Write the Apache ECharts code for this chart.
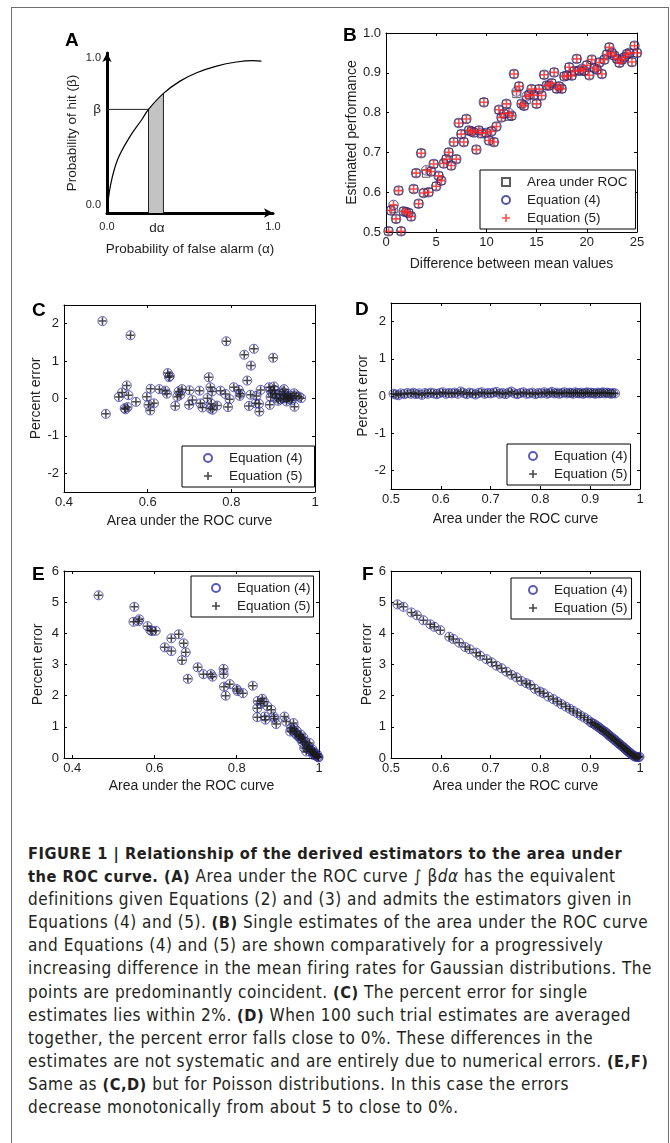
<!DOCTYPE html>
<html>
<head>
<meta charset="utf-8">
<script src="https://cdn.jsdelivr.net/npm/echarts@6/dist/echarts.min.js"></script>
<style>
html, body { margin: 0; padding: 0; background: #fff; }
#frame {
  position: absolute; left: 11px; top: 7px; width: 658px; height: 1160px;
  border: 1.5px solid #6e6e6e; border-bottom: none; box-sizing: border-box;
}
#chart { position: absolute; left: 0; top: 0; width: 670px; height: 820px; }
#caption {
  position: absolute; left: 28px; top: 842px;
  font-family: "Liberation Sans Narrow", "DejaVu Sans Condensed", "Liberation Sans", sans-serif;
  font-size: 17px; letter-spacing: 0.5px; line-height: 23.1px; color: #231f20; white-space: nowrap;
}
#caption b { font-weight: bold; font-size: 16.3px; }
</style>
</head>
<body>
<div id="frame"></div>
<div id="chart"></div>
<div id="caption">
<b>FIGURE 1 | Relationship of the derived estimators to the area under</b><br>
<b>the ROC curve. (A)</b> Area under the ROC curve ∫ β<i>d</i><i>α</i> has the equivalent<br>
definitions given Equations (2) and (3) and admits the estimators given in<br>
Equations (4) and (5). <b>(B)</b> Single estimates of the area under the ROC curve<br>
and Equations (4) and (5) are shown comparatively for a progressively<br>
increasing difference in the mean firing rates for Gaussian distributions. The<br>
points are predominantly coincident. <b>(C)</b> The percent error for single<br>
estimates lies within 2%. <b>(D)</b> When 100 such trial estimates are averaged<br>
together, the percent error falls close to 0%. These differences in the<br>
estimates are not systematic and are entirely due to numerical errors. <b>(E,F)</b><br>
Same as <b>(C,D)</b> but for Poisson distributions. In this case the errors<br>
decrease monotonically from about 5 to close to 0%.
</div>
<script>
// ---- panel A: schematic ROC curve
const rocX = [0, 0.02, 0.064, 0.14, 0.21, 0.25, 0.34, 0.44, 0.54, 0.66, 0.78, 0.88, 0.93]
const rocY = [0, 0.172, 0.344, 0.495, 0.602, 0.667, 0.770, 0.849, 0.903, 0.946, 0.972, 0.981, 0.978]
const betaX = 0.25, betaY = 0.667
const stripX = 0.34, stripY = 0.770

// ---- panel B: estimated performance vs difference of means
const xB = [0.25,0.5,0.75,1,1.25,1.5,1.75,2,2.25,2.5,2.75,3,3.25,3.5,3.75,4,4.25,4.5,4.75,5,
  5.25,5.5,5.75,6,6.25,6.5,6.75,7,7.25,7.5,7.75,8,8.25,8.5,8.75,9,9.25,9.5,9.75,10,
  10.25,10.5,10.75,11,11.25,11.5,11.75,12,12.25,12.5,12.75,13,13.25,13.5,13.75,14,14.25,14.5,14.75,15,
  15.25,15.5,15.75,16,16.25,16.5,16.75,17,17.25,17.5,17.75,18,18.25,18.5,18.75,19,19.25,19.5,19.75,20,
  20.25,20.5,20.75,21,21.25,21.5,21.75,22,22.25,22.5,22.75,23,23.25,23.5,23.75,24,24.25,24.5,24.75,25]
const eq4B = [0.502,0.554,0.568,0.533,0.604,0.502,0.552,0.550,0.548,0.539,
  0.608,0.648,0.571,0.698,0.598,0.655,0.600,0.652,0.671,0.615,
  0.641,0.629,0.672,0.683,0.700,0.667,0.726,0.683,0.774,0.746,
  0.726,0.784,0.755,0.753,0.750,0.707,0.755,0.749,0.826,0.749,
  0.730,0.753,0.726,0.765,0.807,0.788,0.797,0.822,0.799,0.792,
  0.897,0.853,0.866,0.822,0.817,0.841,0.845,0.859,0.844,0.822,
  0.859,0.843,0.895,0.868,0.868,0.874,0.901,0.860,0.866,0.860,
  0.891,0.893,0.914,0.893,0.904,0.935,0.906,0.910,0.905,0.919,
  0.894,0.933,0.912,0.908,0.926,0.897,0.933,0.946,0.964,0.950,
  0.943,0.935,0.925,0.933,0.939,0.947,0.950,0.927,0.968,0.950]
const aucB = [0.502,0.554,0.558,0.533,0.604,0.502,0.552,0.550,0.548,0.539,
  0.608,0.648,0.571,0.698,0.598,0.647,0.600,0.652,0.671,0.615,
  0.641,0.629,0.672,0.683,0.700,0.667,0.726,0.683,0.774,0.746,
  0.726,0.784,0.755,0.753,0.750,0.707,0.755,0.746,0.826,0.749,
  0.730,0.753,0.726,0.765,0.807,0.788,0.797,0.822,0.790,0.792,
  0.897,0.847,0.866,0.822,0.817,0.832,0.845,0.859,0.844,0.822,
  0.859,0.843,0.895,0.868,0.868,0.874,0.901,0.860,0.866,0.860,
  0.891,0.893,0.914,0.893,0.904,0.935,0.906,0.903,0.905,0.919,
  0.894,0.933,0.912,0.908,0.926,0.897,0.933,0.946,0.964,0.950,
  0.943,0.935,0.925,0.933,0.939,0.947,0.950,0.927,0.968,0.950]
const eq5B = eq4B

// ---- panel C: percent error, single estimates (Gaussian)
const xC = [0.492,0.500,0.559,0.531,0.539,0.550,0.554,0.547,0.552,0.572,
  0.598,0.602,0.606,0.607,0.615,0.628,0.642,0.648,0.651,0.646,
  0.666,0.671,0.674,0.678,0.682,0.699,0.700,0.707,0.724,0.726,
  0.731,0.743,0.746,0.750,0.750,0.752,0.754,0.755,0.766,0.774,
  0.786,0.788,0.792,0.796,0.806,0.818,0.820,0.822,0.831,0.838,
  0.842,0.846,0.847,0.854,0.858,0.860,0.866,0.867,0.870,0.890,
  0.892,0.894,0.898,0.900,0.902,0.903,0.908,0.912,0.916,0.922,
  0.926,0.930,0.932,0.935,0.938,0.942,0.946,0.951,0.950,0.962,
  0.967,0.894,0.905,0.918,0.925,0.928,0.936,0.944,0.955,0.653,0.545]
const eq4C = [2.07,-0.41,1.69,0.04,0.16,0.35,0.09,-0.29,-0.23,-0.09,
  0.05,-0.17,-0.32,0.26,-0.13,0.25,0.21,0.68,0.57,0.13,
  -0.20,0.05,0.19,0.10,0.25,-0.17,0.22,-0.04,0.21,-0.13,
  -0.24,0.01,0.57,0.30,-0.27,-0.14,0.19,-0.30,-0.19,0.21,
  0.12,1.53,-0.23,-0.02,0.30,0.23,0.07,0.13,1.17,0.48,
  -0.20,0.10,0.88,1.33,-0.13,0.07,-0.14,-0.35,0.23,0.30,
  -0.17,0.04,0.14,1.09,0.32,0.23,0.01,-0.06,0.13,0.19,
  0.25,0.05,-0.08,0.04,-0.01,0.07,0.01,-0.22,0.14,0.05,
  0.01,0.21,0.10,-0.02,0.00,0.09,0.12,-0.05,0.08,0.60,-0.26]
const eq5C = eq4C

// ---- panel D: percent error, 100 averaged trials (Gaussian)
const xD = [0.505,0.51,0.515,0.52,0.527,0.533,0.54,0.545,0.55,0.556,
  0.562,0.568,0.574,0.58,0.586,0.592,0.598,0.604,0.61,0.616,
  0.622,0.628,0.634,0.64,0.646,0.652,0.658,0.664,0.67,0.676,
  0.682,0.688,0.694,0.7,0.706,0.712,0.718,0.724,0.73,0.736,
  0.742,0.748,0.754,0.76,0.766,0.772,0.778,0.784,0.79,0.796,
  0.802,0.808,0.813,0.818,0.823,0.828,0.833,0.838,0.843,0.848,
  0.853,0.858,0.862,0.866,0.87,0.874,0.878,0.882,0.886,0.89,
  0.894,0.898,0.902,0.906,0.91,0.914,0.918,0.922,0.926,0.93,
  0.934,0.938,0.942,0.946,0.95]
const eq4D = [0.06,0.04,0.02,0.07,0.05,0.08,0.06,0.09,0.05,0.07,
  0.03,0.08,0.06,0.09,0.07,0.05,0.08,0.10,0.06,0.08,
  0.07,0.09,0.06,0.12,0.08,0.05,0.09,0.07,0.04,0.08,
  0.10,0.06,0.08,0.07,0.09,0.11,0.06,0.08,0.05,0.09,
  0.12,0.07,0.05,0.08,0.10,0.06,0.07,0.09,0.05,0.08,
  0.07,0.10,0.06,0.08,0.11,0.07,0.09,0.06,0.08,0.10,
  0.07,0.09,0.08,0.06,0.10,0.08,0.07,0.09,0.06,0.08,
  0.10,0.07,0.09,0.08,0.06,0.09,0.07,0.08,0.10,0.07,
  0.09,0.08,0.06,0.08,0.07]
const eq5D = eq4D

// ---- panel E: percent error, single estimates (Poisson)
const xE = [0.464,0.549,0.551,0.561,0.563,0.583,0.590,0.594,0.603,0.625,
  0.641,0.641,0.659,0.667,0.671,0.676,0.681,0.705,0.719,0.737,
  0.741,0.768,0.768,0.769,0.773,0.783,0.800,0.802,0.815,0.839,
  0.850,0.850,0.851,0.858,0.862,0.866,0.868,0.870,0.874,0.884,
  0.890,0.892,0.896,0.916,0.920,0.930,0.932,0.938,0.942,0.946,
  0.950,0.956,0.958,0.962,0.964,0.966,0.969,0.970,0.974,0.977,
  0.978,0.982,0.985,0.986,0.988,0.990,0.993,0.996,0.998,
  0.935,0.940,0.945,0.952,0.955,0.960,0.972,0.980,0.984,0.992,0.995,0.999]
const eq4E = [5.22,4.37,4.85,4.39,4.45,4.23,4.10,4.07,4.08,3.55,
  3.84,3.43,3.97,3.14,3.68,3.39,2.54,2.91,2.69,2.69,
  2.61,2.86,2.69,2.29,2.00,2.37,2.21,2.15,2.08,2.32,
  1.60,1.31,1.83,1.74,1.90,1.81,1.33,1.23,1.67,1.55,
  1.33,1.26,1.09,1.33,1.17,0.85,0.96,1.12,0.80,0.87,
  0.69,0.75,0.59,0.66,0.32,0.53,0.21,0.43,0.37,0.48,
  0.27,0.21,0.16,0.10,0.19,0.11,0.07,0.05,0.03,
  0.90,0.95,0.75,0.70,0.62,0.50,0.30,0.25,0.28,0.09,0.12,0.02]
const eq5E = eq4E

// ---- panel F: percent error, 100 averaged trials (Poisson)
const xF = [0.513,0.525,0.541,0.552,0.565,0.579,0.587,0.599,0.617,0.625,
  0.637,0.649,0.658,0.671,0.679,0.692,0.702,0.712,0.722,0.732,
  0.742,0.752,0.762,0.772,0.779,0.789,0.799,0.806,0.816,0.826,
  0.834,0.842,0.851,0.859,0.866,0.874,0.881,0.888,0.895,0.901,
  0.908,0.915,0.921,0.927,0.933,0.938,0.943,0.949,0.953,0.958,
  0.963,0.967,0.971,0.975,0.979,0.983,0.987,0.991,0.995,0.999,
  0.904,0.911,0.918,0.924,0.930,0.936,0.941,0.946,0.951,0.956,
  0.961,0.965,0.969,0.973,0.977,0.981,0.985,0.989,0.993,0.997]
const eq4F = [4.93,4.85,4.67,4.58,4.42,4.29,4.21,4.10,3.89,3.82,
  3.70,3.56,3.49,3.38,3.28,3.17,3.07,2.96,2.88,2.77,
  2.67,2.59,2.47,2.40,2.35,2.22,2.13,2.08,1.97,1.89,
  1.81,1.73,1.65,1.58,1.51,1.44,1.36,1.30,1.23,1.15,
  1.09,1.01,0.94,0.87,0.80,0.72,0.66,0.59,0.52,0.46,
  0.39,0.34,0.28,0.22,0.17,0.12,0.07,0.04,0.03,0.04,
  1.12,1.05,0.98,0.90,0.84,0.76,0.69,0.62,0.56,0.49,
  0.42,0.37,0.31,0.25,0.20,0.15,0.10,0.06,0.04,0.03]
const eq5F = eq4F

// tick labels
const ticksB = { x: [0, 5, 10, 15, 20, 25], y: [0.5, 0.6, 0.7, 0.8, 0.9, 1.0] }
const ticksC = { x: [0.4, 0.6, 0.8, 1], y: [-2, -1, 0, 1, 2] }
const ticksD = { x: [0.5, 0.6, 0.7, 0.8, 0.9, 1], y: [-2, -1, 0, 1, 2] }
const ticksE = { x: [0.4, 0.6, 0.8, 1], y: [0, 1, 2, 3, 4, 5, 6] }
const ticksF = { x: [0.5, 0.6, 0.7, 0.8, 0.9, 1], y: [0, 1, 2, 3, 4, 5, 6] }

const FONT = '"Liberation Sans", Arial, sans-serif'
const TXT = '#1e1e1e'
const NAVY = '#2c2c8e'
const BLUE = '#3232a2'
const PLUS = 'path://M4,0H6V4H10V6H6V10H4V6H0V4H4Z'

const zip = (xs, ys) => xs.map((x, i) => [x, ys[i]])
const fmtDec = v => (v === 1 ? '1' : (Math.abs(v) < 1e-9 ? '0' : String(+v.toFixed(1))))
const fmtB = v => v.toFixed(1)

const grids = [], xAxes = [], yAxes = [], series = [], legends = [], titles = []
const legendText = {}

// boxed matlab-like axes, ticks inside on all four sides
function boxAxes(box, xr, yr, ticks, names, gaps, xFmt, yFmt) {
  grids.push({ left: box[0], top: box[1], width: box[2], height: box[3] })
  const gi = grids.length - 1
  const line = { show: true, onZero: false, lineStyle: { color: '#000', width: 1 } }
  const tick = v => ({ show: true, inside: true, length: 3, customValues: v, lineStyle: { color: '#000', width: 1 } })
  const lbl = { color: TXT, fontSize: 13, fontFamily: FONT }
  const nameStyle = { color: TXT, fontSize: 14, fontFamily: FONT }
  xAxes.push({
    type: 'value', gridIndex: gi, min: xr[0], max: xr[1], position: 'bottom',
    axisLine: line, axisTick: tick(ticks.x), splitLine: { show: false },
    axisLabel: { ...lbl, customValues: ticks.x, formatter: xFmt, margin: 4 },
    name: names[0], nameLocation: 'middle', nameGap: gaps[0], nameTextStyle: nameStyle,
  })
  xAxes.push({
    type: 'value', gridIndex: gi, min: xr[0], max: xr[1], position: 'top',
    axisLine: line, axisTick: tick(ticks.x), splitLine: { show: false }, axisLabel: { show: false },
  })
  yAxes.push({
    type: 'value', gridIndex: gi, min: yr[0], max: yr[1], position: 'left',
    axisLine: line, axisTick: tick(ticks.y), splitLine: { show: false },
    axisLabel: { ...lbl, customValues: ticks.y, formatter: yFmt, margin: 5 },
    name: names[1], nameLocation: 'middle', nameGap: gaps[1], nameTextStyle: nameStyle,
  })
  yAxes.push({
    type: 'value', gridIndex: gi, min: yr[0], max: yr[1], position: 'right',
    axisLine: line, axisTick: tick(ticks.y), splitLine: { show: false }, axisLabel: { show: false },
  })
  return { xAxisIndex: xAxes.length - 2, yAxisIndex: yAxes.length - 2 }
}

function circleSeries(id, label, ax, data, color, size) {
  legendText[id] = label
  series.push({
    type: 'scatter', name: id, ...ax, data, symbol: 'circle', symbolSize: size,
    itemStyle: { color: 'rgba(0,0,0,0)', borderColor: color, borderWidth: 1 }, silent: true,
  })
}
function plusSeries(id, label, ax, data, color, size) {
  legendText[id] = label
  series.push({
    type: 'scatter', name: id, ...ax, data, symbol: PLUS, symbolSize: size,
    itemStyle: { color }, silent: true,
  })
}
function squareSeries(id, label, ax, data, color, size) {
  legendText[id] = label
  series.push({
    type: 'scatter', name: id, ...ax, data, symbol: 'rect', symbolSize: size,
    itemStyle: { color: 'rgba(0,0,0,0)', borderColor: color, borderWidth: 1 }, silent: true,
  })
}
function addLegend(ids, left, top, pad) {
  legends.push({
    data: ids, left, top, orient: 'vertical', itemWidth: 8, itemHeight: 8, itemGap: 4,
    padding: pad, borderColor: '#000', borderWidth: 1, backgroundColor: '#fff',
    selectedMode: false, formatter: n => legendText[n],
    textStyle: { color: TXT, fontSize: 13.5, fontFamily: FONT, lineHeight: 14, padding: [0, 0, 0, 12] },
  })
}
function letter(t, left, top) {
  titles.push({ text: t, left, top, padding: 0,
    textStyle: { fontSize: 19, fontWeight: 'bold', color: '#000', fontFamily: FONT } })
}

// ---- panel A
grids.push({ left: 107, top: 53, width: 166, height: 160 })
const thick = { show: true, onZero: false, symbol: ['none', 'arrow'], symbolSize: [7, 9], lineStyle: { color: '#000', width: 3 } }
const aXLabels = { 0: '0.0', 0.3: '{g|dα}', 1: '1.0' }
const aYLabels = { 0.05: '0.0', 0.667: '{g|β}', 1: '1.0' }
const aRich = { g: { fontSize: 13.5, fontFamily: FONT, color: TXT } }
xAxes.push({
  type: 'value', gridIndex: 0, min: 0, max: 1, axisLine: thick, axisTick: { show: false }, splitLine: { show: false },
  axisLabel: { customValues: [0, 0.3, 1], formatter: v => aXLabels[v], color: TXT, fontSize: 11, fontFamily: FONT, margin: 8, rich: aRich },
  name: 'Probability of false alarm (α)', nameLocation: 'middle', nameGap: 29,
  nameTextStyle: { color: TXT, fontSize: 13.5, fontFamily: FONT },
})
yAxes.push({
  type: 'value', gridIndex: 0, min: 0, max: 1.03, axisLine: thick, axisTick: { show: false }, splitLine: { show: false },
  axisLabel: { customValues: [0.05, 0.667, 1], formatter: v => aYLabels[v], color: TXT, fontSize: 11, fontFamily: FONT, margin: 6, rich: aRich },
  name: 'Probability of hit (β)', nameLocation: 'middle', nameGap: 28,
  nameTextStyle: { color: TXT, fontSize: 13.5, fontFamily: FONT },
})
const axA = { xAxisIndex: 0, yAxisIndex: 0 }
series.push({ type: 'line', ...axA, data: [[betaX, betaY], [stripX, stripY]], symbol: 'none',
  lineStyle: { width: 0 }, areaStyle: { color: '#c3c3c3', opacity: 1 }, silent: true })
series.push({ type: 'line', ...axA, data: [[betaX, 0], [betaX, betaY]], symbol: 'none', lineStyle: { color: '#222', width: 1 }, silent: true })
series.push({ type: 'line', ...axA, data: [[stripX, 0], [stripX, stripY]], symbol: 'none', lineStyle: { color: '#222', width: 1 }, silent: true })
series.push({ type: 'line', ...axA, data: [[0, betaY], [betaX, betaY]], symbol: 'none', lineStyle: { color: '#222', width: 1 }, silent: true })
series.push({ type: 'line', ...axA, data: zip(rocX, rocY), symbol: 'none', smooth: 0.4, lineStyle: { color: '#000', width: 1.2 }, silent: true })
letter('A', 65, 31)

// ---- panel B
const axB = boxAxes([386, 33, 251, 199], [0, 25], [0.5, 1.0], ticksB,
  ['Difference between mean values', 'Estimated performance'], [25, 26], v => String(v), fmtB)
squareSeries('B_auc', 'Area under ROC', axB, zip(xB, aucB), '#333', 7.5)
circleSeries('B_eq4', 'Equation (4)', axB, zip(xB, eq4B), NAVY, 9.5)
plusSeries('B_eq5', 'Equation (5)', axB, zip(xB, eq5B), '#ff2020', 8)
addLegend(['B_auc', 'B_eq4', 'B_eq5'], 480, 170, [5, 8, 4, 21])
letter('B', 343, 26)

// ---- panel C
const axC = boxAxes([64, 305, 251, 187], [0.4, 1], [-2.5, 2.5], ticksC,
  ['Area under the ROC curve', 'Percent error'], [22, 19], fmtDec, fmtDec)
circleSeries('C_eq4', 'Equation (4)', axC, zip(xC, eq4C), BLUE, 9)
plusSeries('C_eq5', 'Equation (5)', axC, zip(xC, eq5C), '#1a1a1a', 7.5)
addLegend(['C_eq4', 'C_eq5'], 182, 446, [5, 12, 4, 21])
letter('C', 32, 301)

// ---- panel D
const axD = boxAxes([391, 303, 249, 186], [0.5, 1], [-2.5, 2.5], ticksD,
  ['Area under the ROC curve', 'Percent error'], [23, 20], fmtDec, fmtDec)
circleSeries('D_eq4', 'Equation (4)', axD, zip(xD, eq4D), BLUE, 9)
plusSeries('D_eq5', 'Equation (5)', axD, zip(xD, eq5D), '#1a1a1a', 7.5)
addLegend(['D_eq4', 'D_eq5'], 507, 444, [5, 3, 4, 21])
letter('D', 355, 300)

// ---- panel E
const axE = boxAxes([64, 571, 255, 187], [0.38, 1], [0, 6], ticksE,
  ['Area under the ROC curve', 'Percent error'], [21, 19], fmtDec, fmtDec)
circleSeries('E_eq4', 'Equation (4)', axE, zip(xE, eq4E), BLUE, 9)
plusSeries('E_eq5', 'Equation (5)', axE, zip(xE, eq5E), '#1a1a1a', 7.5)
addLegend(['E_eq4', 'E_eq5'], 191, 576, [5, 3, 4, 20])
letter('E', 32, 565)

// ---- panel F
const axF = boxAxes([391, 571, 249, 187], [0.5, 1], [0, 6], ticksF,
  ['Area under the ROC curve', 'Percent error'], [21, 17], fmtDec, fmtDec)
circleSeries('F_eq4', 'Equation (4)', axF, zip(xF, eq4F), BLUE, 9)
plusSeries('F_eq5', 'Equation (5)', axF, zip(xF, eq5F), '#1a1a1a', 7.5)
addLegend(['F_eq4', 'F_eq5'], 511, 578, [5, 4, 4, 17])
letter('F', 362, 565)

const chart = echarts.init(document.getElementById('chart'))
chart.setOption({
  animation: false,
  title: titles,
  grid: grids,
  xAxis: xAxes,
  yAxis: yAxes,
  legend: legends,
  series,
})
</script>
</body>
</html>
